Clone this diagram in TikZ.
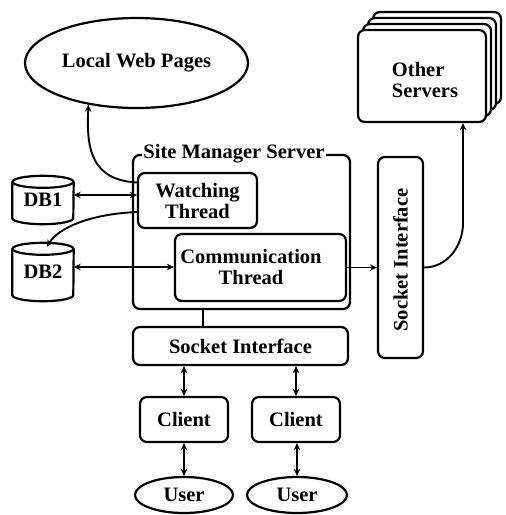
\documentclass[tikz,border=0pt]{standalone}
\usepackage{fontspec}
\setmainfont{Liberation Serif}
\usetikzlibrary{arrows.meta,shapes.geometric}
\newcommand\dbcyl[1]{%
  \draw[line width=2.2pt] ([yshift=-6pt]#1.north west) -- ([yshift=6pt]#1.south west)
    arc[start angle=180,end angle=360,x radius=30.5pt,y radius=6pt]
    -- ([yshift=-6pt]#1.north east);
  \draw[line width=2.2pt] ([yshift=-6pt]#1.north) ellipse[x radius=30.5pt,y radius=6pt];}
\begin{document}
\begin{tikzpicture}[x=1pt,y=-1pt,
  every node/.style={font=\bfseries\fontsize{20.5}{21}\selectfont, inner sep=0pt},
  box/.style={draw, line width=2.2pt, rounded corners=7pt, fill=white},
  oval/.style={draw, ellipse, line width=2.2pt},
  txt/.style={align=center},
  conn/.style={line width=1.9pt, >={Stealth[length=7pt,width=6.5pt]}},
]
\useasboundingbox (0,0) rectangle (506,515);

% Other servers (stack)
\foreach \k/\n in {3/os3,2/os2,1/os1}
  \node[box, minimum width=128pt, minimum height=92pt] (\n) at (422+5*\k, 76-6*\k) {};
\node[box, minimum width=128pt, minimum height=92pt] (os) at (422,76) {};
\node[align=left] (ost) at (425,80) {Other\\Servers};
\coordinate (osin) at ([xshift=41pt]os.south);

% local web pages
\node[oval, minimum width=223pt, minimum height=90pt] (lwp) at (136.5,63) {Local Web Pages};

% site manager server
\node[box, minimum width=217pt, minimum height=154pt] (sms) at (241.5,232) {};
\node[fill=white, inner xsep=1pt] (smsl) at (234,154) {Site Manager Server};
\node[box, txt, minimum width=119pt, minimum height=55pt] (wt) at (197.5,200.5) {Watching\\Thread};
\node[box, minimum width=171pt, minimum height=67pt] (ct) at (260.5,267.5) {};
\node[txt] (ctt) at (251,267) {Communication\\Thread};

% vertical socket interface
\node[box, minimum width=45pt, minimum height=201pt] (sv) at (400.5,257.5) {};
\node[rotate=90] (svt) at (400.5,260) {Socket Interface};

% horizontal socket interface, clients, users
\node[box, minimum width=215pt, minimum height=38pt] (sh) at (240.5,346) {Socket Interface};
\node[box, minimum width=88pt, minimum height=45pt] (c1) at (184,419.5) {Client};
\node[box, minimum width=88pt, minimum height=45pt] (c2) at (296,419.5) {Client};
\node[oval, minimum width=98pt, minimum height=36pt] (u1) at (184,495) {User};
\node[oval, minimum width=100pt, minimum height=36pt] (u2) at (297,495) {User};

% databases
\node[minimum width=61pt, minimum height=48pt] (db1) at (43,200) {DB1};
\dbcyl{db1}
\node[minimum width=61pt, minimum height=58pt] (db2) at (43,272) {DB2};
\dbcyl{db2}

% connectors
\draw[conn,->] ([yshift=18pt]wt.west) .. controls (92,180) and (86,150) .. (lwp.221);
\draw[conn,<->] ([yshift=5.5pt]wt.west) -- ([yshift=5.5pt]wt.west -| db1.east);
\draw[conn,->] ([yshift=-11.5pt]wt.west) .. controls (90,214) and (58,228) .. ([xshift=4pt,yshift=-4pt]db2.north);
\draw[conn,<->] ([yshift=5pt]db2.east) -- ([yshift=5pt]db2.east -| ct.west);
\draw[conn,->] (ct.east) -- (ct.east -| sv.west);
\draw[conn,->] (ct.east -| sv.east) to[out=0,in=-90] ([yshift=-100pt]osin) -- (osin);
\draw[conn] ([xshift=-38.5pt]sms.south) -- ([xshift=-38.5pt]sms.south |- sh.north);
\draw[conn,<->] (sh.south -| c1.north) -- (c1.north);
\draw[conn,<->] (sh.south -| c2.north) -- (c2.north);
\draw[conn,<->] (c1.south) -- (c1.south |- u1.north);
\draw[conn,<->] (c2.south -| u2.north) -- (u2.north);
\end{tikzpicture}
\end{document}
